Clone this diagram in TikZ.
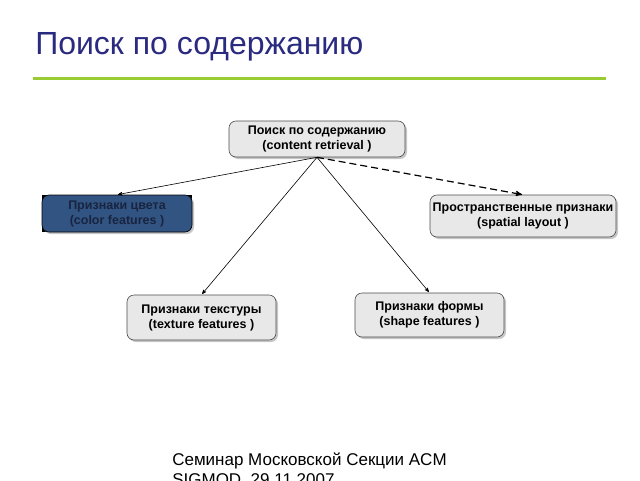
\documentclass[tikz,border=0pt]{standalone}
\usepackage{fontspec}
\setmainfont{Liberation Sans}
\usetikzlibrary{arrows,shadows,backgrounds}

\definecolor{titleblue}{RGB}{42,42,128}
\definecolor{rulegreen}{RGB}{153,204,51}
\definecolor{boxgray}{RGB}{232,232,232}
\definecolor{colorblue}{RGB}{50,84,130}
\definecolor{colortext}{RGB}{24,36,64}

\begin{document}
\begin{tikzpicture}[x=1pt,y=-1pt,->,>=stealth',shorten >=1pt,auto,
  line width=0.6pt,main node/.style={rectangle,rounded corners=7pt,draw=gray!60!black,fill=boxgray,
    drop shadow={shadow xshift=2pt,shadow yshift=-2pt,fill=gray!45,opacity=1},
    align=center,inner sep=1pt,font=\bfseries\fontsize{12.5}{15}\selectfont}]

 \useasboundingbox (0,0) rectangle (640,480);

 % title and rule
 \node[anchor=west,inner sep=0pt,text=titleblue,font=\fontsize{32}{38}\selectfont] (title) at (35,47) {Поиск по содержанию};
 \draw[-,rulegreen,line width=3pt] (33,78) -- (607,78);

 \node[main node,minimum width=176pt,minimum height=36pt] (root) at (317,139) {Поиск по содержанию\\(content retrieval )};
 \node[main node,draw=black,fill=colorblue,text=colortext,drop shadow={opacity=0},
   minimum width=150pt,minimum height=37pt] (color) at (117,213.5) {Признаки цвета\\(color features )};
 \node[main node,minimum width=186pt,minimum height=42pt] (spatial) at (523,216) {Пространственные признаки\\(spatial layout )};
 \node[main node,minimum width=149pt,minimum height=45pt] (texture) at (201.5,317.5) {Признаки текстуры\\(texture features )};
 \node[main node,minimum width=149pt,minimum height=44pt] (shape) at (429.5,315) {Признаки формы\\(shape features )};

 % black corners behind the colour box
 \begin{scope}[on background layer]
  \fill[black] (color.north west) rectangle (color.south east);
 \end{scope}

 % footer
 \node[anchor=north west,inner sep=0pt,align=left,font=\fontsize{17}{20}\selectfont] (foot) at (172,453)
   {Семинар Московской Секции ACM\\SIGMOD, 29.11.2007};

 \path
    (root.south) edge (color.north)
    (root.south) edge (texture.north)
    (root.south) edge (shape.north)
    (root.south) edge [dash pattern=on 7pt off 4pt,line width=1.2pt] (spatial.north);

\end{tikzpicture}
\end{document}
